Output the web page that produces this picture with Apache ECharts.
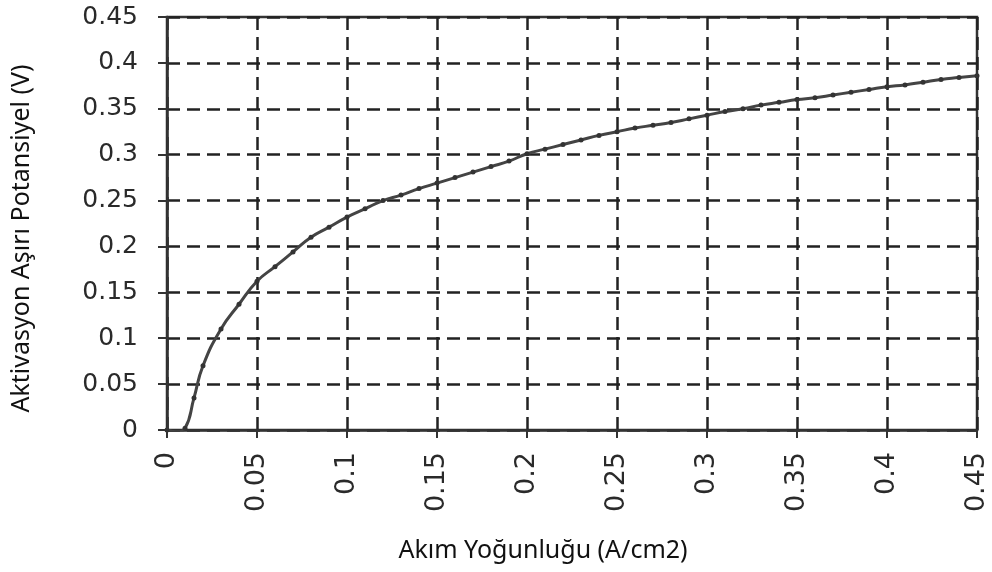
<!DOCTYPE html>
<html>
<head>
<meta charset="utf-8">
<script src="https://cdn.jsdelivr.net/npm/echarts@6/dist/echarts.min.js"></script>
<style>
  * { margin: 0; padding: 0; }
  #chart { width: 992px; height: 572px; background: #fff; }
</style>
</head>
<body>
<div id="chart"></div>
<script>
  // current density (A/cm2) and activation overpotential (V)
  var currentDensity = [
    0, 0.005, 0.01, 0.015, 0.02, 0.03, 0.04, 0.05, 0.06, 0.07, 0.08, 0.09, 0.1,
    0.11, 0.12, 0.13, 0.14, 0.15, 0.16, 0.17, 0.18, 0.19, 0.2,
    0.21, 0.22, 0.23, 0.24, 0.25, 0.26, 0.27, 0.28, 0.29, 0.3,
    0.31, 0.32, 0.33, 0.34, 0.35, 0.36, 0.37, 0.38, 0.39, 0.4,
    0.41, 0.42, 0.43, 0.44, 0.45
  ]
  var overpotential = [
    0, -0.002, 0.002, 0.035, 0.07, 0.11, 0.137, 0.162, 0.178, 0.194, 0.21, 0.221, 0.232,
    0.241, 0.25, 0.256, 0.263, 0.269, 0.275, 0.281, 0.287, 0.293, 0.301,
    0.306, 0.311, 0.316, 0.321, 0.325, 0.329, 0.332, 0.335, 0.339, 0.343,
    0.347, 0.35, 0.354, 0.357, 0.36, 0.362, 0.365, 0.368, 0.371, 0.374,
    0.376, 0.379, 0.382, 0.384, 0.386
  ]
  var xName = 'Akım Yoğunluğu (A/cm2)'
  var yName = 'Aktivasyon Aşırı Potansiyel (V)'

  var points = currentDensity.map(function (x, i) { return [x, overpotential[i]] })

  var myChart = echarts.init(document.getElementById('chart'), null, { renderer: 'canvas' })

  var gridLine = { show: true, lineStyle: { color: '#222', width: 2.5, type: [13, 7] } }
  var nameFont = { fontFamily: 'Noto Sans', fontSize: 25, color: '#111' }

  var option = {
    animation: false,
    grid: {
      left: 167, right: 15, top: 17, bottom: 142,
      show: true, borderColor: '#333', borderWidth: 2.5
    },
    xAxis: {
      type: 'value',
      min: 0, max: 0.45, interval: 0.05,
      name: xName,
      nameLocation: 'middle',
      nameGap: 108,
      nameTextStyle: Object.assign({ padding: [0, 58, 0, 0] }, nameFont),
      axisLine: { show: true, lineStyle: { color: '#333', width: 2.5 } },
      axisTick: { show: true, length: 8, lineStyle: { color: '#333', width: 2 } },
      axisLabel: { rotate: 90, margin: 22, fontFamily: 'DejaVu Sans', fontSize: 27, color: '#2a2a2a' },
      splitLine: gridLine
    },
    yAxis: {
      type: 'value',
      min: 0, max: 0.45, interval: 0.05,
      name: yName,
      nameLocation: 'middle',
      nameGap: 133,
      nameTextStyle: Object.assign({ padding: [0, 30, 0, 0] }, nameFont),
      axisLine: { show: true, lineStyle: { color: '#333', width: 2.5 } },
      axisTick: { show: true, length: 9, lineStyle: { color: '#333', width: 2 } },
      axisLabel: { margin: 29, fontFamily: 'DejaVu Sans', fontSize: 25, color: '#2a2a2a' },
      splitLine: gridLine
    },
    series: [
      {
        type: 'line',
        data: points,
        smooth: true,
        symbol: 'circle',
        symbolSize: 5,
        itemStyle: { color: '#333' },
        lineStyle: { color: '#444', width: 3 }
      }
    ]
  }

  myChart.setOption(option)
  window.addEventListener('resize', myChart.resize)
</script>
</body>
</html>
